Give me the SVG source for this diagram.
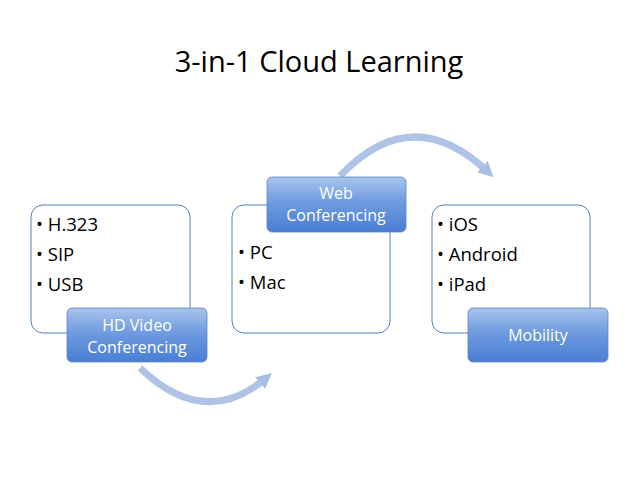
<svg xmlns="http://www.w3.org/2000/svg" width="638" height="479" viewBox="0 0 638 479">
<defs>
<linearGradient id="bg" x1="0" y1="0" x2="0" y2="1"><stop offset="0" stop-color="#a9c4ec"/><stop offset="0.45" stop-color="#6f9be0"/><stop offset="1" stop-color="#4a7ed2"/></linearGradient>
<marker id="ah" viewBox="0 0 10 10" refX="5" refY="5" markerWidth="2.2" markerHeight="2.2" orient="auto"><path d="M0,0 L10,5 L0,10 Z" fill="#a8bfe4"/></marker>
</defs>
<style>
.w{fill:#fff;stroke:#4f81bd;stroke-width:1}
.b{fill:url(#bg);stroke:#5b86c8;stroke-width:0.8}
.t{font-family:"Open Sans","Liberation Sans",sans-serif;font-size:18.5px;fill:#000}
.l{font-family:"Open Sans","Liberation Sans",sans-serif;font-size:16px;fill:#fff;text-anchor:middle}
.arc{fill:none;stroke:#aec3e6;stroke-width:7}
</style>
<rect width="638" height="479" fill="#fff"/>
<text x="319" y="72" text-anchor="middle" font-family="Open Sans, Liberation Sans, sans-serif" font-size="29" fill="#000">3-in-1 Cloud Learning</text>
<g id="connectors">
<path class="arc" d="M140,368 Q205,430 266,378" marker-end="url(#ah)"/>
<path class="arc" d="M340,176 Q412,100 488,172" marker-end="url(#ah)"/>
</g>
<g id="n1">
<rect class="w" x="31" y="205" width="159" height="128" rx="12"/>
<text class="t" x="36" y="231">• H.323</text>
<text class="t" x="36" y="261">• SIP</text>
<text class="t" x="36" y="291">• USB</text>
<rect class="b" x="67" y="308" width="140" height="54" rx="5"/>
<text class="l" x="137" y="331">HD Video</text>
<text class="l" x="137" y="353">Conferencing</text>
</g>
<g id="n2">
<rect class="w" x="232" y="205" width="158" height="128" rx="12"/>
<text class="t" x="238" y="259">• PC</text>
<text class="t" x="238" y="289">• Mac</text>
<rect class="b" x="267" y="177" width="139" height="55" rx="5"/>
<text class="l" x="336" y="199">Web</text>
<text class="l" x="336" y="221">Conferencing</text>
</g>
<g id="n3">
<rect class="w" x="432" y="205" width="158" height="128" rx="12"/>
<text class="t" x="437" y="231">• iOS</text>
<text class="t" x="437" y="261">• Android</text>
<text class="t" x="437" y="291">• iPad</text>
<rect class="b" x="468" y="308" width="140" height="54" rx="5"/>
<text class="l" x="538" y="341">Mobility</text>
</g>
</svg>
